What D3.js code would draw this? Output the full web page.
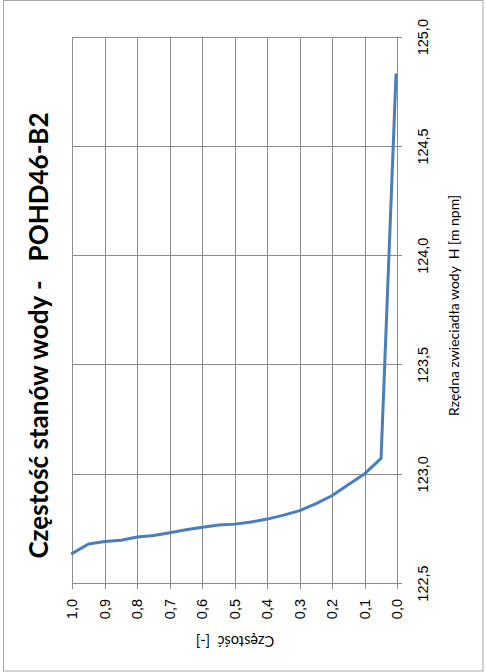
<!DOCTYPE html>
<html>
<head>
<meta charset="utf-8">
<script src="https://cdn.jsdelivr.net/npm/d3@7"></script>
<style>
  html, body { margin: 0; padding: 0; background: #fff; }
  svg { display: block; font-family: Lato, "Open Sans", sans-serif; }
  svg text { white-space: pre; }
  .grid line { stroke: #8c8c8c; stroke-width: 1; shape-rendering: crispEdges; }
  .grid text { fill: #000; font-size: 14.5px; }
</style>
</head>
<body>
<script>
/*
 * Chart data: exceedance frequency of water levels, gauge POHD46-B2.
 */

const WATER_LEVEL = [122.64, 122.683, 122.694, 122.700, 122.715, 122.722, 122.735,
                     122.748, 122.760, 122.770, 122.774, 122.784, 122.797, 122.815,
                     122.836, 122.868, 122.905, 122.955, 123.005, 123.075, 124.83];
const FREQUENCY = [1.00, 0.95, 0.90, 0.85, 0.80, 0.75, 0.70,
                   0.65, 0.60, 0.55, 0.50, 0.45, 0.40, 0.35,
                   0.30, 0.25, 0.20, 0.15, 0.10, 0.05, 0.004];

const LEVEL_TICKS = [122.5, 123.0, 123.5, 124.0, 124.5, 125.0];
const FREQ_TICKS = [0.0, 0.1, 0.2, 0.3, 0.4, 0.5, 0.6, 0.7, 0.8, 0.9, 1.0];

const TITLE = 'Częstość stanów wody -   POHD46-B2';
const LEVEL_LABEL = 'Rzędna zwieciadła wody  H [m npm]';
const FREQ_LABEL = 'Częstość  [-]';

/*
 * Global parameters. The chart is built upright and then turned
 * a quarter turn counter-clockwise onto the page.
 */

const CANVAS_WIDTH = 486;
const CANVAS_HEIGHT = 672;

const PLOT_LEFT = 88;
const PLOT_RIGHT = 634.3;
const PLOT_TOP = 72.3;
const PLOT_BOTTOM = 397.3;
const TICK = 5;

const fmt = d => d3.format('.1f')(d).replace('.', ',');

const svg = d3.select('body')
  .append('svg')
    .attr('width', CANVAS_WIDTH)
    .attr('height', CANVAS_HEIGHT);

// outer frame
svg.append('rect')
    .attr('x', 3.5)
    .attr('y', 0.5)
    .attr('width', 479.5)
    .attr('height', 670.5)
    .attr('fill', '#fff')
    .attr('stroke', '#a6a6a6');

const chart = svg.append('g')
    .attr('transform', `translate(0, ${CANVAS_HEIGHT}) rotate(-90)`);

const xScale = d3.scaleLinear()
    .domain([122.5, 125])
    .range([PLOT_LEFT, PLOT_RIGHT]);

const yScale = d3.scaleLinear()
    .domain([0, 1])
    .range([PLOT_BOTTOM, PLOT_TOP]);

// water level axis with vertical gridlines
chart.append('g')
    .attr('class', 'grid')
    .attr('transform', `translate(0, ${PLOT_BOTTOM + TICK})`)
    .call(d3.axisBottom(xScale)
      .tickValues(LEVEL_TICKS)
      .tickSize(-(PLOT_BOTTOM - PLOT_TOP + TICK))
      .tickPadding(15.5)
      .tickFormat(fmt))
    .call(g => g.select('.domain').remove());

// frequency axis with horizontal gridlines
chart.append('g')
    .attr('class', 'grid')
    .attr('transform', `translate(${PLOT_LEFT - TICK}, 0)`)
    .call(d3.axisLeft(yScale)
      .tickValues(FREQ_TICKS)
      .tickSize(-(PLOT_RIGHT - PLOT_LEFT + TICK))
      .tickPadding(10)
      .tickFormat(fmt))
    .call(g => g.select('.domain').remove());

// the curve
const line = d3.line()
    .x(i => xScale(WATER_LEVEL[i]))
    .y(i => yScale(FREQUENCY[i]));

chart.append('path')
    .datum(d3.range(WATER_LEVEL.length))
    .attr('d', line)
    .attr('fill', 'none')
    .attr('stroke', '#4a7ebb')
    .attr('stroke-width', 3)
    .attr('stroke-linejoin', 'round')
    .attr('stroke-linecap', 'round');

// title
chart.append('text')
    .attr('x', 336.5)
    .attr('y', 48)
    .attr('text-anchor', 'middle')
    .attr('font-size', '26px')
    .attr('font-weight', 'bold')
    .attr('fill', '#000')
    .text(TITLE);

// axis titles
chart.append('text')
    .attr('x', 366.5)
    .attr('y', 459)
    .attr('text-anchor', 'middle')
    .attr('font-size', '14px')
    .attr('fill', '#000')
    .text(LEVEL_LABEL);

chart.append('text')
    .attr('transform', 'translate(36, 235) rotate(-90)')
    .attr('text-anchor', 'middle')
    .attr('font-size', '14.5px')
    .attr('fill', '#000')
    .text(FREQ_LABEL);
</script>
</body>
</html>
